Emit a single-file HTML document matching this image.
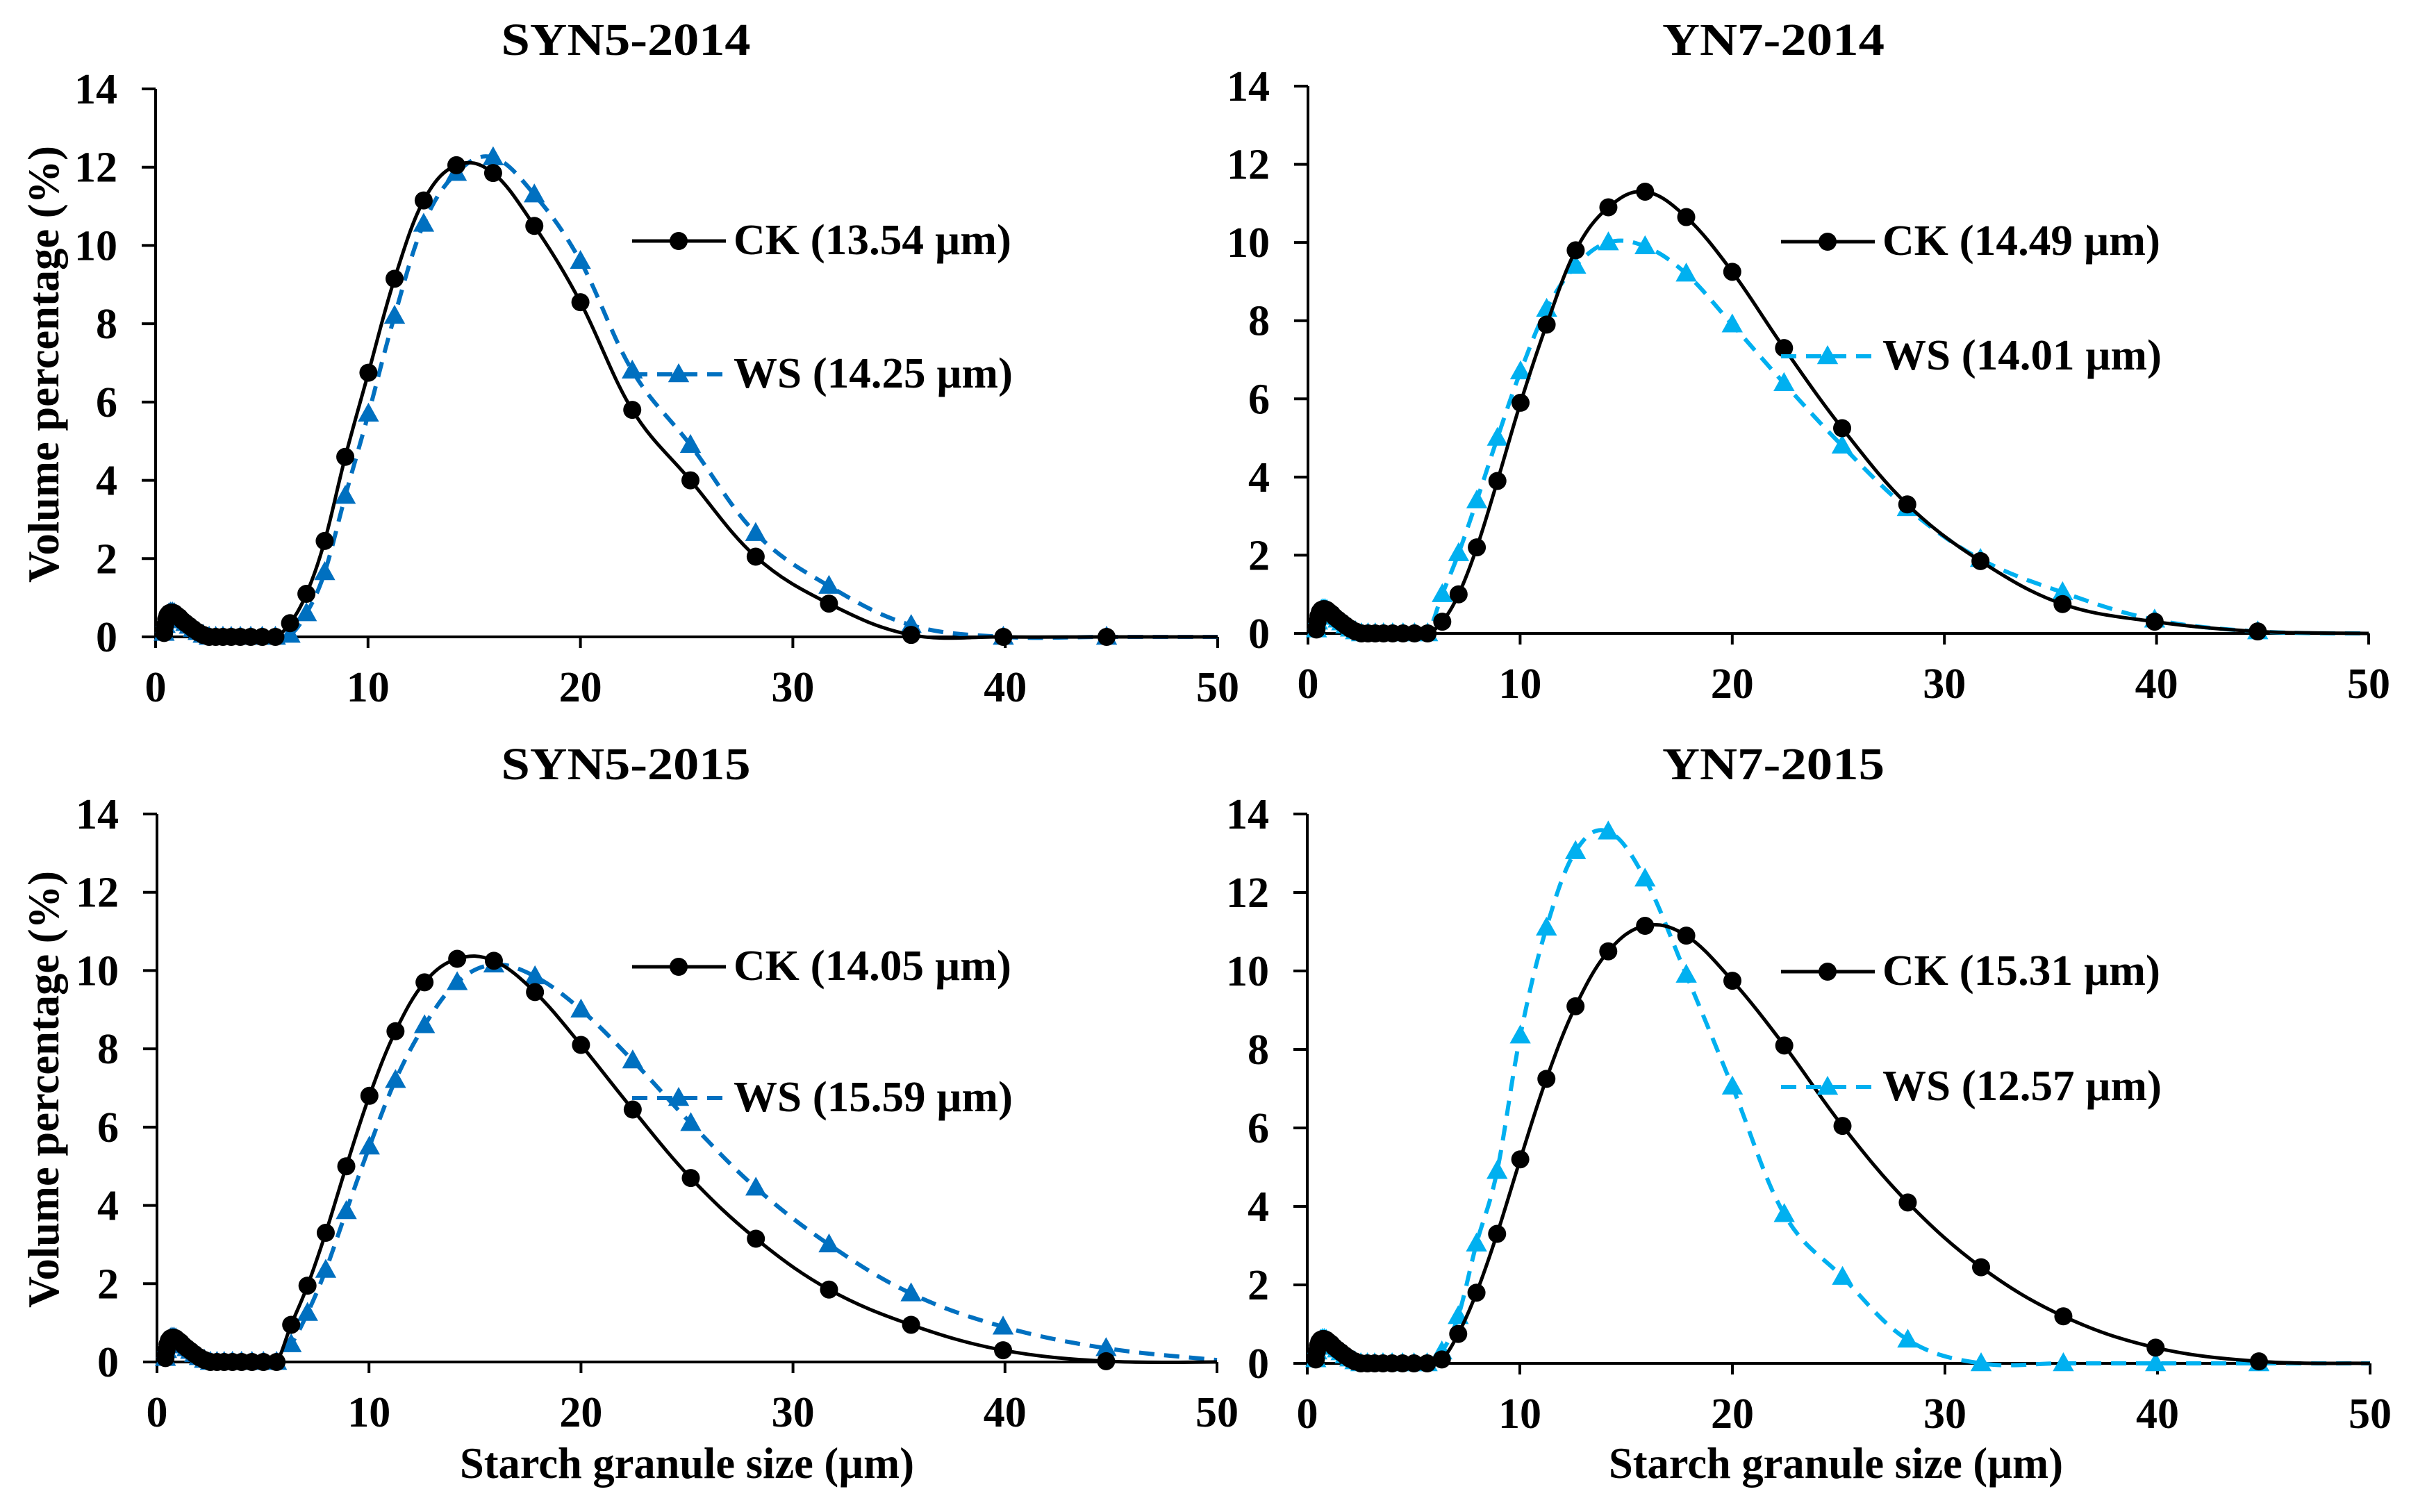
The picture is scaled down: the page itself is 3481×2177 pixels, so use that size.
<!DOCTYPE html>
<html><head><meta charset="utf-8"><style>
html,body{margin:0;padding:0;background:#fff}
svg{display:block}
text{font-family:"Liberation Serif",serif;font-weight:bold;fill:#000}
</style></head><body>
<svg id="chart" width="3481" height="2177" viewBox="0 0 3481 2177" xmlns="http://www.w3.org/2000/svg"></svg>
<script>
const sizes=[0.4,0.45,0.5,0.56,0.63,0.71,0.8,0.89,1.0,1.12,1.26,1.42,1.59,1.78,2.0,2.24,2.52,2.83,3.17,3.56,3.99,4.48,5.02,5.64,6.33,7.1,7.96,8.93,10.02,11.25,12.62,14.16,15.89,17.83,20,22.44,25.18,28.25,31.7,35.57,39.91,44.77,50];
const smallBump=[0.1,0.3,0.45,0.55,0.6,0.62,0.62,0.6,0.55,0.5,0.42,0.35,0.28,0.2,0.12,0.05,0,0,0,0,0,0,0,0];
const xTicks=[0,10,20,30,40,50];
const yTicks=[0,2,4,6,8,10,12,14];
const titles=["SYN5-2014","YN7-2014","SYN5-2015","YN7-2015"];
const ckLabels=["CK (13.54 µm)","CK (14.49 µm)","CK (14.05 µm)","CK (15.31 µm)"];
const wsLabels=["WS (14.25 µm)","WS (14.01 µm)","WS (15.59 µm)","WS (12.57 µm)"];
const ckSYN5_2014=[0.35,1.1,2.45,4.6,6.75,9.15,11.15,12.05,11.85,10.5,8.55,5.8,4.0,2.05,0.85,0.05,0,0,0];
const wsSYN5_2014=[0.05,0.6,1.65,3.6,5.7,8.2,10.55,11.85,12.25,11.3,9.6,6.8,4.9,2.65,1.3,0.3,0,0,0];
const ckYN7_2014=[0.3,1.0,2.2,3.9,5.9,7.9,9.8,10.9,11.3,10.65,9.25,7.3,5.25,3.3,1.85,0.75,0.3,0.05,0];
const wsYN7_2014=[1.0,2.05,3.4,5.0,6.7,8.3,9.4,10.0,9.9,9.2,7.9,6.4,4.8,3.2,1.9,1.05,0.35,0.05,0];
const ckSYN5_2015=[0.95,1.95,3.3,5.0,6.8,8.45,9.7,10.3,10.25,9.45,8.1,6.45,4.7,3.15,1.85,0.95,0.3,0.02,0];
const wsSYN5_2015=[0.45,1.25,2.35,3.85,5.5,7.2,8.6,9.7,10.15,9.85,9.0,7.7,6.1,4.45,3.0,1.75,0.9,0.35,0.05];
const ckYN7_2015=[0.1,0.75,1.8,3.3,5.2,7.25,9.1,10.5,11.15,10.9,9.75,8.1,6.05,4.1,2.45,1.2,0.4,0.05,0];
const wsYN7_2015=[0.3,1.2,3.05,4.9,8.35,11.1,13.05,13.55,12.35,9.9,7.05,3.8,2.2,0.6,0,0,0,0,0];
const ckSeries=[ckSYN5_2014,ckYN7_2014,ckSYN5_2015,ckYN7_2015];
const wsSeries=[wsSYN5_2014,wsYN7_2014,wsSYN5_2015,wsYN7_2015];

const panels=[
 {x0:224,x1:1753,y0:917,y1:128,tx:901,ty:79,lx:910,ly1:347,ly2:539,wsColor:"#0070c0",yTitle:true},
 {x0:1883,x1:3410,y0:912,y1:124,tx:2553,ty:79,lx:2564,ly1:348,ly2:513,wsColor:"#00b0f0"},
 {x0:226,x1:1752,y0:1961,y1:1172,tx:901,ty:1122,lx:910,ly1:1392,ly2:1581,wsColor:"#0070c0",yTitle:true,xTitle:true,xtc:989},
 {x0:1882,x1:3412,y0:1963,y1:1172,tx:2553,ty:1122,lx:2564,ly1:1399,ly2:1565,wsColor:"#00b0f0",xTitle:true,xtc:2643}
];
const NS="http://www.w3.org/2000/svg";
const svg=document.getElementById('chart');
function mk(tag,attrs,parent,txt){const e=document.createElementNS(NS,tag);for(const k in attrs)e.setAttribute(k,attrs[k]);if(txt!==undefined)e.textContent=txt;(parent||svg).appendChild(e);return e;}
function smooth(pts){let d="M"+pts[0][0]+","+pts[0][1];for(let i=0;i<pts.length-1;i++){const p0=pts[Math.max(0,i-1)],p1=pts[i],p2=pts[i+1],p3=pts[Math.min(pts.length-1,i+2)];const t=0.18;const c1y=p1[1]+(p2[1]-p0[1])*t,c2y=p2[1]-(p3[1]-p1[1])*t;const c1x=p1[0]+(p2[0]-p0[0])*t,c2x=p2[0]-(p3[0]-p1[0])*t;d+=" C"+c1x+","+c1y+" "+c2x+","+c2y+" "+p2[0]+","+p2[1];}return d;}
function tri(cx,cy,s){return (cx)+","+(cy-s)+" "+(cx-s*0.95)+","+(cy+s*0.7)+" "+(cx+s*0.95)+","+(cy+s*0.7);}

panels.forEach((p,i)=>{
 const g=mk('g',{},svg);
 
 
 const sx=v=>p.x0+(p.x1-p.x0)*v/50, sy=v=>p.y0+(p.y1-p.y0)*v/14;
 const t=mk('text',{x:p.tx,y:p.ty,'font-size':66,'text-anchor':'middle',textLength:(i%2?320:359),lengthAdjust:'spacingAndGlyphs'},g,titles[i]);
 
 
 const ax=mk('g',{},g);
 
 
 mk('line',{x1:p.x0,y1:p.y1,x2:p.x0,y2:p.y0+16,stroke:'#000','stroke-width':4},ax);
 mk('line',{x1:p.x0,y1:p.y0,x2:p.x1,y2:p.y0,stroke:'#000','stroke-width':4},ax);
 yTicks.forEach(v=>{mk('line',{x1:p.x0-20,y1:sy(v),x2:p.x0,y2:sy(v),stroke:'#000','stroke-width':4},ax);
  const l=mk('text',{x:p.x0-55,y:sy(v)+21,'font-size':62,'text-anchor':'end'},ax,String(v));
  
  });
 xTicks.forEach(v=>{mk('line',{x1:sx(v),y1:p.y0,x2:sx(v),y2:p.y0+16,stroke:'#000','stroke-width':4},ax);
  const l=mk('text',{x:sx(v),y:p.y0+93,'font-size':62,'text-anchor':'middle'},ax,String(v));
  
  });
 if(p.yTitle){const yc=(p.y0+p.y1)/2+2;const yt=mk('text',{x:0,y:0,'font-size':64,'text-anchor':'middle',textLength:629,lengthAdjust:'spacingAndGlyphs',transform:'translate(84,'+yc+') rotate(-90)'},g,'Volume percentage (%)');
  
  }
 if(p.xTitle){const xt=mk('text',{x:p.xtc,y:2128,'font-size':64,'text-anchor':'middle',textLength:654,lengthAdjust:'spacingAndGlyphs'},g,'Starch granule size (µm)');
  
  }
 [[wsSeries[i],p.wsColor,true],[ckSeries[i],'#000',false]].forEach(([vals,col,isWS])=>{
  const all=smallBump.concat(vals);
  const pts=sizes.map((s,k)=>[sx(s),sy(all[k])]);
  const sg=mk('g',{},g);
  
  
  mk('path',{d:smooth(pts),fill:'none',stroke:col,'stroke-width':isWS?6:5,'stroke-dasharray':isWS?'22,14':'none'},sg);
  pts.slice(0,pts.length-1).forEach(pt=>{
   let m;
   if(isWS)m=mk('polygon',{points:tri(pt[0],pt[1],16),fill:col},sg);
   else m=mk('circle',{cx:pt[0],cy:pt[1],r:13,fill:'#000'},sg);
   
   
  });
 });
 const lg=mk('g',{},g);
 
 
 mk('line',{x1:p.lx,y1:p.ly1,x2:p.lx+135,y2:p.ly1,stroke:'#000','stroke-width':5},lg);
 mk('circle',{cx:p.lx+67,cy:p.ly1,r:13,fill:'#000'},lg);
 const t1=mk('text',{x:p.lx+146,y:p.ly1+19,'font-size':62,textLength:400,lengthAdjust:'spacingAndGlyphs'},lg,ckLabels[i]);
 
 
 mk('line',{x1:p.lx,y1:p.ly2,x2:p.lx+135,y2:p.ly2,stroke:p.wsColor,'stroke-width':6,'stroke-dasharray':'22,14'},lg);
 mk('polygon',{points:tri(p.lx+67,p.ly2,16),fill:p.wsColor},lg);
 const t2=mk('text',{x:p.lx+146,y:p.ly2+19,'font-size':62,textLength:402,lengthAdjust:'spacingAndGlyphs'},lg,wsLabels[i]);
 
 
});
</script>
</body></html>
